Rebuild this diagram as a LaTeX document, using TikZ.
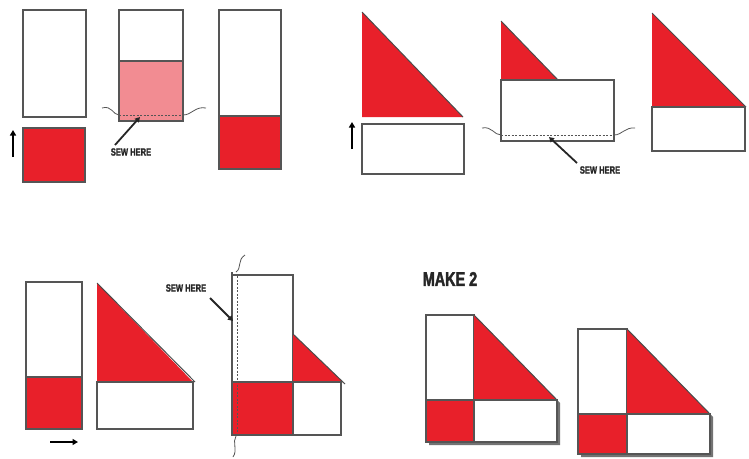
\documentclass[tikz,border=0pt]{standalone}
\usepackage{fontspec}
\newfontfamily\sewfont[FakeStretch=0.72,FakeBold=1.5]{Liberation Sans Bold}
\newfontfamily\makefont[FakeStretch=0.72,FakeBold=2]{Liberation Sans Bold}
\usetikzlibrary{arrows.meta}
\definecolor{qred}{HTML}{E8202A}
\definecolor{qpink}{HTML}{F28C92}
\definecolor{qline}{HTML}{555555}
\tikzset{
  piece/.style={draw=qline, line width=1.2pt},
  redpiece/.style={piece, fill=qred},
  whitepiece/.style={piece, fill=white},
  seam/.style={draw=qline, line width=0.8pt, dash pattern=on 2pt off 1.5pt},
  wave/.style={draw=qline, line width=0.8pt},
  dirarrow/.style={draw=black, line width=1.6pt, -{Triangle[length=5.5pt,width=6pt]}},
  pointer/.style={draw=black!85, line width=1.8pt, -{Triangle[length=5pt,width=5.5pt]}},
  sewlabel/.style={font=\sewfont\fontsize{10.5}{10.5}\selectfont, text=black!85, inner sep=0pt},
  makelabel/.style={font=\makefont\fontsize{20}{20}\selectfont, text=black!85, inner sep=0pt},
  shadow/.style={fill=black!55, draw=none}
}
\begin{document}
\begin{tikzpicture}[x=1pt,y=-1pt]
\useasboundingbox (0,0) rectangle (749,458);
% ---------- top left panel ----------
\draw[whitepiece] (23,10) rectangle (86,117);
\draw[redpiece] (23,128) rectangle (85,182);
\coordinate (a1s) at (13,157); \coordinate (a1e) at (13,130);
\draw[dirarrow] (a1s) -- (a1e);
\draw[whitepiece] (119,10) rectangle (183,121);
\draw[piece, fill=qpink] (119,61) rectangle (183,121);
\draw[seam] (119,115) -- (183,115);
\draw[wave] (102,108) .. controls (112,105) and (113,115) .. (119,115);
\draw[wave] (183,115) .. controls (192,115) and (195,106) .. (206,108);
\node[sewlabel] (sew1) at (131,152) {SEW HERE};
\coordinate (sew1s) at (115,145);
\coordinate (sew1t) at (140,117);
\draw[pointer] (sew1s) -- (sew1t);
\draw[whitepiece] (219,10) rectangle (281,169);
\draw[redpiece] (219,116) rectangle (281,169);
% ---------- top right panel ----------
\fill[qred] (362,12) -- (362,117) -- (463,117) -- cycle;
\draw[line width=1pt, draw=black!70] (362,12) -- (463,117);
\draw[whitepiece] (362,124) rectangle (464,174);
\coordinate (a2s) at (352,149); \coordinate (a2e) at (352,122);
\draw[dirarrow] (a2s) -- (a2e);
\fill[qred] (501,21) -- (501,80) -- (558,80) -- cycle;
\draw[line width=1pt, draw=black!70] (501,21) -- (558,80);
\draw[whitepiece] (501,80) rectangle (614,141);
\draw[seam] (501,135) -- (614,135);
\draw[wave] (482,128) .. controls (492,126) and (494,135) .. (501,135);
\draw[wave] (614,135) .. controls (622,135) and (625,127) .. (635,128);
\node[sewlabel] (sew2) at (600,170) {SEW HERE};
\coordinate (sew2s) at (577,163);
\coordinate (sew2t) at (549,137);
\draw[pointer] (sew2s) -- (sew2t);
\fill[qred] (652,13) -- (652,107) -- (746,107) -- cycle;
\draw[line width=1pt, draw=black!70] (652,13) -- (746,107);
\draw[whitepiece] (652,107) rectangle (745,151);
% ---------- bottom left panel ----------
\draw[whitepiece] (26,282) rectangle (82,429);
\draw[redpiece] (26,377) rectangle (82,429);
\coordinate (a3s) at (50,442); \coordinate (a3e) at (78,442);
\draw[dirarrow] (a3s) -- (a3e);
\fill[qred] (97,283) -- (97,382) -- (193,382) -- cycle;
\draw[line width=1pt, draw=black!70] (97,283) -- (195,382);
\draw[whitepiece] (97,382) rectangle (193,429);
% composite
\draw[whitepiece] (232,275) rectangle (293,435);
\draw[redpiece] (232,382) rectangle (293,435);
\fill[qred] (293,334) -- (293,382) -- (343,382) -- cycle;
\draw[line width=1pt, draw=black!70] (293,334) -- (345,384);
\draw[whitepiece] (293,382) rectangle (341,435);
\draw[piece] (232,272) -- (232,435);
\draw[seam] (237,276) -- (237,434);
\draw[wave] (245,255) .. controls (237,260) and (242,268) .. (236,272);
\draw[wave] (236,436) .. controls (232,442) and (238,450) .. (233,457);
\node[sewlabel] (sew3) at (186,288) {SEW HERE};
\coordinate (sew3s) at (210,298);
\coordinate (sew3t) at (233,321);
\draw[pointer] (sew3s) -- (sew3t);
% ---------- bottom right panel ----------
\node[makelabel, anchor=center] (make) at (450,279) {MAKE 2};
% block 1
\fill[shadow] (429,318) -- (477,318) -- (560,403) -- (560,445) -- (429,445) -- cycle;
\draw[whitepiece] (426,315) rectangle (474,400);
\draw[redpiece] (426,400) rectangle (474,442);
\fill[qred] (474,315) -- (474,400) -- (557,400) -- cycle;
\draw[line width=1pt, draw=black!70] (474,315) -- (557,400);
\draw[whitepiece] (474,400) rectangle (557,442);
% block 2
\fill[shadow] (581,332) -- (630,332) -- (713,417) -- (713,457) -- (581,457) -- cycle;
\draw[whitepiece] (578,329) rectangle (627,414);
\draw[redpiece] (578,414) rectangle (627,454);
\fill[qred] (627,329) -- (627,414) -- (710,414) -- cycle;
\draw[line width=1pt, draw=black!70] (627,329) -- (710,414);
\draw[whitepiece] (627,414) rectangle (710,454);
\end{tikzpicture}
\end{document}
